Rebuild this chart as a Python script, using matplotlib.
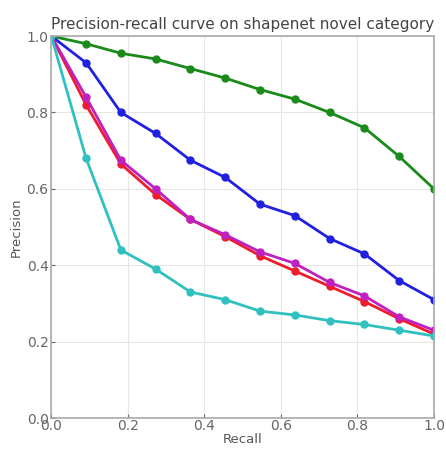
import numpy as np
import matplotlib
matplotlib.use("Agg")
import matplotlib.pyplot as plt

recall = [i / 11 for i in range(12)]
green = [1.0, 0.98, 0.955, 0.94, 0.915, 0.89, 0.86, 0.835, 0.80, 0.76, 0.685, 0.60]
blue = [1.0, 0.93, 0.80, 0.745, 0.675, 0.63, 0.56, 0.53, 0.47, 0.43, 0.36, 0.31]
red = [1.0, 0.82, 0.665, 0.585, 0.52, 0.475, 0.425, 0.385, 0.345, 0.305, 0.26, 0.22]
magenta = [1.0, 0.84, 0.675, 0.60, 0.52, 0.48, 0.435, 0.405, 0.355, 0.32, 0.265, 0.23]
cyan = [1.0, 0.68, 0.44, 0.39, 0.33, 0.31, 0.28, 0.27, 0.255, 0.245, 0.23, 0.215]
ticks = [0.0, 0.2, 0.4, 0.6, 0.8, 1.0]

fig = plt.figure(figsize=(4.46, 4.51), dpi=100)
ax = fig.add_axes([0.115, 0.073, 0.858, 0.847])

series = [(green, '#1a8a1a'), (blue, '#2020e0'), (red, '#ee1c2c'),
          (magenta, '#c020c0'), (cyan, '#30c0c0')]
for ys, c in series:
    ax.plot(recall, ys, color=c, lw=2, marker='o', ms=5, mec=c, mfc=c)

ax.set_xlim(0, 1)
ax.set_ylim(0, 1)
ax.set_xticks(ticks)
ax.set_yticks(ticks)
ax.set_xticklabels([f"{t:.1f}" for t in ticks])
ax.set_yticklabels([f"{t:.1f}" for t in ticks])
ax.grid(True, color='#e6e6e6', lw=0.8)
ax.set_axisbelow(True)
for s in ax.spines.values():
    s.set_color('#aaaaaa')
    s.set_linewidth(1.2)
ax.tick_params(labelsize=10, colors='#666666', direction='in', length=3, pad=2)
ax.tick_params(axis='x', pad=1)
ax.set_xlabel('Recall', fontsize=9.5, color='#555555', labelpad=0)
ax.set_ylabel('Precision', fontsize=9.5, color='#555555', labelpad=3)
ax.set_title('Precision-recall curve on shapenet novel category', fontsize=11, color='#444444', pad=5)

fig.savefig('out.png', dpi=100)
